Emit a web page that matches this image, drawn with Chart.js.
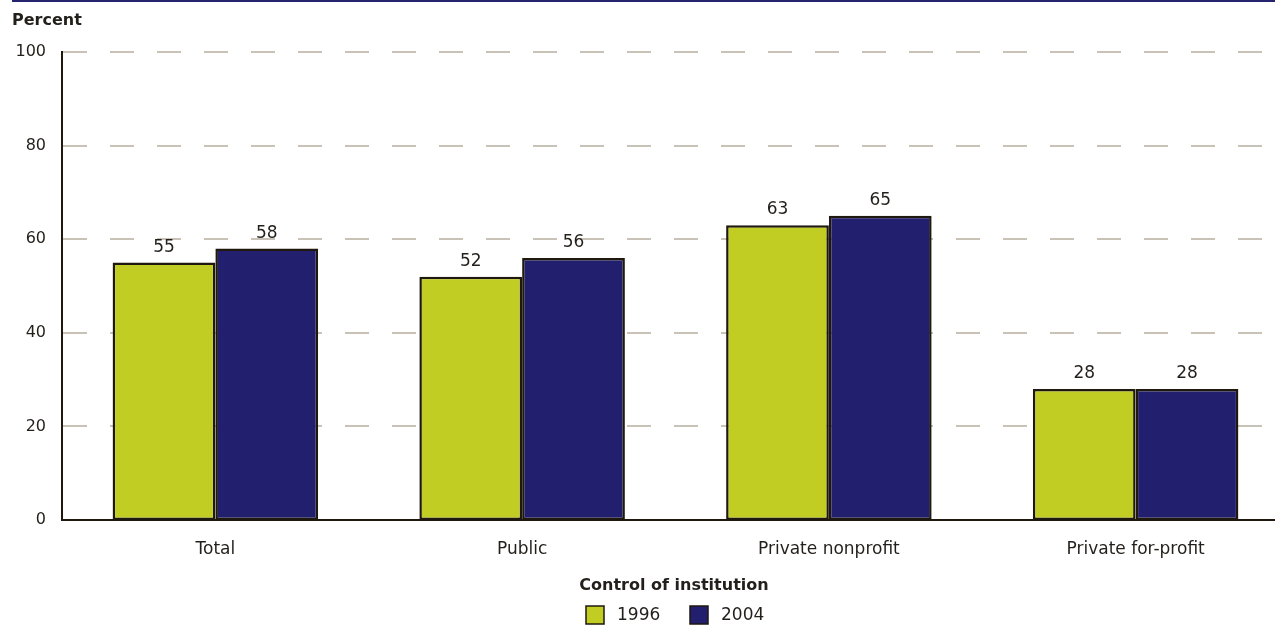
<!DOCTYPE html>
<html>
<head>
<meta charset="utf-8">
<script src="https://cdn.jsdelivr.net/npm/chart.js@4/dist/chart.umd.min.js"></script>
<style>
  html, body { margin: 0; padding: 0; background: #fff; overflow: hidden; }
  #wrap { width: 1289px; height: 625px; position: relative; }
</style>
</head>
<body>
<div id="wrap"><canvas id="barChart"></canvas></div>
<script>
const categories = ['Total', 'Public', 'Private nonprofit', 'Private for-profit'];
const years = ['1996', '2004'];
const values1996 = [55, 52, 63, 28];
const values2004 = [58, 56, 65, 28];
const yTicks = [0, 20, 40, 60, 80, 100];

const fontFamily = "'DejaVu Sans', 'Noto Sans', sans-serif";
const textColor = '#231f1a';
const edgeColor = '#1f180f';

// dashed grid drawn left to right so the dash starts at the axis
const dashedGrid = {
    id: 'dashedGrid',
    beforeDatasetsDraw(chart) {
        const ctx = chart.ctx;
        const y = chart.scales.y;
        const area = chart.chartArea;
        ctx.save();
        ctx.strokeStyle = '#c9c3b7';
        ctx.lineWidth = 2;
        ctx.setLineDash([24, 23]);
        yTicks.forEach(v => {
            if (v === 0) return;
            const py = Math.round(y.getPixelForValue(v));
            ctx.beginPath();
            ctx.moveTo(area.left + 1, py);
            ctx.lineTo(1275, py);
            ctx.stroke();
        });
        ctx.restore();
    }
};

// top rule, axis title, value labels and legend
const extras = {
    id: 'extras',
    afterDraw(chart) {
        const ctx = chart.ctx;
        ctx.save();
        ctx.fillStyle = '#26236e';
        ctx.fillRect(12, 0, 1263, 2);

        ctx.fillStyle = textColor;
        ctx.font = 'bold 16px ' + fontFamily;
        ctx.textAlign = 'left';
        ctx.textBaseline = 'middle';
        ctx.fillText('Percent', 12, 21);

        ctx.font = '17px ' + fontFamily;
        ctx.textAlign = 'center';
        ctx.textBaseline = 'alphabetic';
        chart.data.datasets.forEach((ds, i) => {
            chart.getDatasetMeta(i).data.forEach((bar, j) => {
                ctx.fillText(ds.data[j], bar.x, bar.y - 11);
            });
        });

        ctx.font = 'bold 16px ' + fontFamily;
        ctx.textBaseline = 'middle';
        ctx.fillText('Control of institution', 674, 586);

        ctx.font = '17px ' + fontFamily;
        ctx.textAlign = 'left';
        let x = 586;
        chart.data.datasets.forEach(ds => {
            ctx.fillStyle = ds.backgroundColor;
            ctx.fillRect(x, 606, 18, 18);
            ctx.strokeStyle = edgeColor;
            ctx.lineWidth = 1.5;
            ctx.strokeRect(x, 606, 18, 18);
            ctx.fillStyle = textColor;
            ctx.fillText(ds.label, x + 31, 616);
            x += 104;
        });
        ctx.restore();
    }
};

new Chart(document.getElementById('barChart'), {
    type: 'bar',
    data: {
        labels: categories,
        datasets: [
            {
                label: years[0],
                data: values1996,
                backgroundColor: '#c2cd23',
                borderColor: edgeColor,
                borderWidth: 2.5,
                borderSkipped: false
            },
            {
                label: years[1],
                data: values2004,
                backgroundColor: '#231f6f',
                borderColor: edgeColor,
                borderWidth: 2.5,
                borderSkipped: false
            }
        ]
    },
    options: {
        responsive: true,
        maintainAspectRatio: false,
        animation: false,
        categoryPercentage: 0.67,
        barPercentage: 1,
        layout: { padding: { top: 52, right: 0, left: 0, bottom: 0 } },
        plugins: {
            legend: { display: false },
            tooltip: { enabled: false }
        },
        scales: {
            x: {
                grid: { display: false, drawTicks: false },
                border: { display: true, color: edgeColor, width: 2 },
                ticks: { color: textColor, font: { family: fontFamily, size: 17 }, padding: 19 },
                afterFit(scale) { scale.height = 105; }
            },
            y: {
                min: 0,
                max: 100,
                afterBuildTicks(scale) { scale.ticks = yTicks.map(v => ({ value: v })); },
                grid: { display: false, drawTicks: false },
                border: { display: true, color: edgeColor, width: 2 },
                ticks: { color: textColor, font: { family: fontFamily, size: 16 }, padding: 16 },
                afterFit(scale) { scale.width = 62; }
            }
        }
    },
    plugins: [dashedGrid, extras]
});
</script>
</body>
</html>
